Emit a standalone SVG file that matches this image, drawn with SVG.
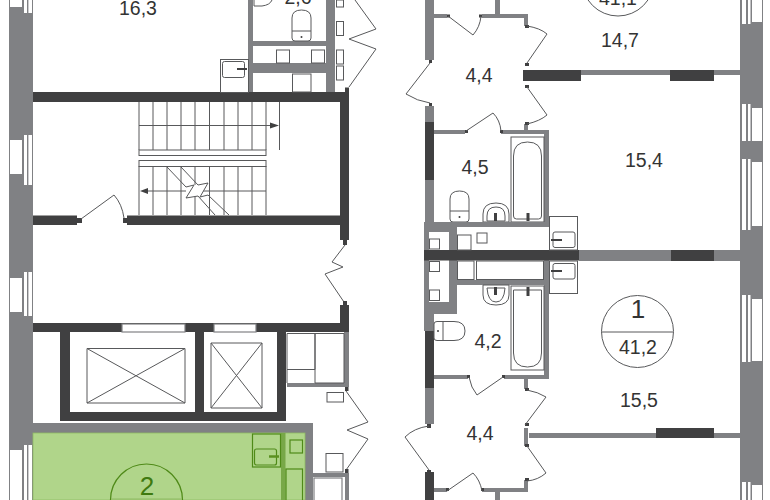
<svg xmlns="http://www.w3.org/2000/svg" width="770" height="500" viewBox="0 0 770 500">
<style>
.g{fill:#808184}.d{fill:#404041}
.l{fill:none;stroke:#58595b;stroke-width:1}
.f{fill:#fff;stroke:#58595b;stroke-width:1}
.w{fill:#fff;stroke:#808184;stroke-width:1.2}
.t{font-family:"Liberation Sans",Arial,sans-serif;font-size:19.5px;fill:#333;text-anchor:middle}
.gl{fill:none;stroke:#4f8a18;stroke-width:1.2}
</style>
<rect width="770" height="500" fill="#fff"/>
<g id="left-wall">
<rect class="g" x="9" y="0" width="24" height="500"/>
<g fill="#fff">
<rect x="10" y="0" width="12" height="7"/><rect x="10" y="140" width="12" height="34"/><rect x="10" y="278" width="12" height="34"/><rect x="10" y="450" width="12" height="50"/>
<rect x="24" y="0" width="8" height="13"/><rect x="24" y="135" width="8" height="50"/><rect x="24" y="272" width="8" height="44"/><rect x="24" y="445" width="8" height="55"/>
</g>
<g class="g"><rect x="27" y="0" width="1.4" height="13"/><rect x="27" y="135" width="1.4" height="50"/><rect x="27" y="272" width="1.4" height="44"/><rect x="27" y="445" width="1.4" height="55"/></g>
</g>
<g id="right-wall">
<rect class="g" x="740" y="0" width="23" height="500"/>
<g fill="#fff">
<rect x="752" y="0" width="10" height="22"/><rect x="752" y="108" width="10" height="33"/><rect x="752" y="162" width="10" height="64"/><rect x="752" y="299" width="10" height="62"/><rect x="752" y="485" width="10" height="15"/>
<rect x="742" y="0" width="8.500" height="24"/><rect x="742" y="104" width="8.500" height="37"/><rect x="742" y="159" width="8.500" height="71"/><rect x="742" y="295" width="8.500" height="67"/><rect x="742" y="482" width="8.500" height="18"/>
</g>
<g class="g"><rect x="746" y="0" width="2" height="24"/><rect x="746" y="104" width="2" height="37"/><rect x="746" y="159" width="2" height="71"/><rect x="746" y="295" width="2" height="67"/><rect x="746" y="482" width="2" height="18"/></g>
</g>
<g id="stair-core">
<g class="l">
<path d="M139 102V150M153 102V150M167 102V150M181 102V150M195 102V150M209.500 102V150M224 102V150M238 102V150M252 102V150M266 102V150M279.500 102V150M139 125.500H270"/>
<rect x="139" y="150" width="127" height="5.500"/><rect x="139" y="160.500" width="127" height="6"/>
<path d="M139 166V215M153 166V215M167 166V215M181 166V215M195 166V215M209.500 166V215M224 166V215M238 166V215M252 166V215M266 166V215M148 191H266"/>
</g>
<path d="M270 122.500l9 3l-9 3zM148 188l-8 3l8 3z" fill="#404041"/>
<path d="M186 187L194 185L198 185L208 183L200 197L198 196L186 198Z" fill="#fff"/>
<path class="l" d="M167 167L186 187L194 185L186 198L198 196L215 215M181 167L198 185L208 183L200 197L208 195L229 215"/>
<path class="d" d="M33 92H345V87.500H349V240H340V225H127V215.500H340V102H33ZM33 215.500H77V225H33Z"/>
<path class="d" d="M343 240H347V245H343ZM77 218H82V223H77ZM123 218H127V223H123Z"/>
<path class="l" d="M81 219L114 195Q122 204 124 218"/>
<path class="l" d="M345 245L332 262L343 267L325 274L346 305"/>
<rect class="d" x="343" y="301" width="4" height="5"/>
</g>
<g id="lift-core">
<path class="d" d="M33 323H340V305H349V332H286V421H60V332H33ZM70 332V412H195V332ZM204 332V412H277V332Z" fill-rule="evenodd"/>
<rect x="122" y="324" width="63" height="8" class="w" stroke-width=".8"/><rect x="214" y="324" width="42" height="8" class="w" stroke-width=".8"/>
<path class="f" d="M87 348.500H185V403H87ZM87 348.500L185 403M185 348.500L87 403"/>
<path class="f" d="M211 343H262V408H211ZM211 343L262 408M262 343L211 408"/>
<path class="g" d="M344 332H349V387H287V383H344Z"/>
<path class="f" d="M287 333.500H315V369.500H287ZM315 333.500H344V383H315Z"/>
<path class="l" d="M287 383V369.500"/>
<rect class="f" x="327" y="392.500" width="16.500" height="9.500"/>
<rect class="d" x="345" y="387" width="3.500" height="4"/>
<path class="l" d="M346 391L368 422L347 430L368 439L346 470"/>
<rect class="d" x="345" y="469" width="3.500" height="4"/>
<rect class="f" x="326" y="453.500" width="17" height="18.500"/>
<path class="g" d="M313 473H349V500H345V477H313Z"/>
<rect class="w" x="314" y="478" width="28" height="23"/>
</g>
<g id="apartment-2">
<rect class="g" x="33" y="423" width="280" height="77"/>
<rect x="33" y="433" width="272" height="67" fill="#b0d58a" stroke="#8fbb63" stroke-width=".8"/>
<rect x="281" y="433" width="4.500" height="67" fill="#78a848"/>
<rect class="gl" x="252.500" y="434" width="28" height="33"/>
<rect class="gl" x="254.500" y="449" width="22" height="16" rx="2"/>
<path d="M269 456.500H279" stroke="#5b9020" stroke-width="2.500"/>
<rect class="gl" x="290" y="440" width="12.500" height="13"/>
<rect class="gl" x="286" y="469" width="16.500" height="33"/>
<path d="M110.500 500A36 36 0 0 1 182.500 500" fill="none" stroke="#4f8a18" stroke-width="1.200"/>
<path d="M111 499H182" stroke="#8fbb63"/>
<text x="147" y="495" font-family="'Liberation Sans',Arial,sans-serif" font-size="26" fill="#3f7a10" text-anchor="middle">2</text>
</g>
<g id="top-left-unit">
<path class="g" d="M248 0H253V41H326V0H335V92H326V73H253V92H248ZM253 46V63H326V46Z" fill-rule="evenodd"/>
<rect x="259" y="74" width="67" height="18" fill="#fff"/>
<rect class="f" x="292.500" y="74" width="18.500" height="18"/>
<rect class="f" x="276.500" y="50" width="13" height="13"/><rect class="f" x="311.500" y="50" width="13" height="13"/>
<path class="l" d="M292 31V18Q292 10 301.500 10Q311 10 311 18V31M292 31H311M292 31V38Q292 41 295 41H308Q311 41 311 38V31"/>
<circle cx="301.500" cy="37" r="1" fill="#404041"/>
<path class="l" d="M254 0V6H262Q270 5 272 0"/>
<rect class="f" x="220.500" y="59.500" width="28" height="33"/>
<rect class="f" x="222.500" y="61.500" width="22" height="16" rx="2"/>
<path d="M237 69H247" stroke="#404041" stroke-width="2"/>
<rect class="f" x="336.500" y="0" width="7" height="7"/><rect class="f" x="336.500" y="21.500" width="7" height="14"/><rect class="f" x="336.500" y="50" width="7" height="14"/><rect class="f" x="336.500" y="66" width="7" height="14"/>
<path class="l" d="M355 0L376 29L349 39L376 49L349 87"/>
<text class="t" x="138" y="15">16,3</text>
<text class="t" x="298" y="3.500">2,6</text>
</g>
<g id="apartment-top">
<g class="g">
<rect x="425" y="0" width="9" height="60"/><rect x="425" y="106" width="9" height="16"/><rect x="425" y="180" width="9" height="45"/>
<rect x="434" y="14" width="13" height="4"/><rect x="482" y="14" width="46" height="4"/><rect x="495" y="0" width="5" height="14"/><rect x="524" y="18" width="4" height="8"/>
<rect x="581" y="70" width="89" height="5"/><rect x="714" y="70" width="26" height="5"/>
<rect x="524" y="124" width="4" height="6"/>
<rect x="434" y="130" width="31" height="4"/><rect x="501" y="130" width="48" height="4"/><rect x="544" y="134" width="5" height="93"/>
</g>
<g class="d">
<rect x="425" y="122" width="9" height="58"/>
<rect x="523" y="70" width="58" height="11"/><rect x="670" y="70" width="44" height="11"/>
<rect x="429" y="60" width="3" height="3"/><rect x="429" y="103" width="3" height="3"/><rect x="447" y="14.500" width="3" height="3"/><rect x="479" y="14.500" width="3" height="3"/>
<rect x="525" y="25" width="4" height="3"/><rect x="525" y="63" width="4" height="3"/><rect x="525" y="85" width="4" height="3"/><rect x="525" y="122" width="4" height="3"/>
<rect x="465" y="130" width="3" height="3"/><rect x="500" y="130" width="3" height="3"/>
</g>
<path class="l" d="M430 63L406 94Q417 101 430 103M448 16L473 35Q480 27 481 16M527 26Q540 28 547 34L527 63M527 87L547 115Q540 121 527 124M466 131L493 113Q500 120 501 131"/>
<circle class="l" cx="618" cy="-20" r="36"/>
<text class="t" x="618" y="5">41,1</text>
<text class="t" x="620" y="47">14,7</text>
<text class="t" x="479" y="82">4,4</text>
<text class="t" x="475" y="174">4,5</text>
<text class="t" x="644" y="167">15,4</text>
<rect class="f" x="511" y="137" width="33" height="85"/>
<path class="l" d="M513.500 216V156Q513.500 142 527.500 142Q541.500 142 541.500 156V216Q541.500 219 538.500 219H516.500Q513.500 219 513.500 216Z"/>
<rect class="d" x="526.500" y="213" width="3" height="8"/>
<path class="l" d="M483 222V214Q483 203 496 203Q509 203 509 214V222ZM487 221V216Q487 207 496 207Q505 207 505 216V221Z"/>
<rect class="d" x="494" y="213" width="3" height="8"/>
<path class="l" d="M450 211V199Q450 191 459.500 191Q469 191 469 199V211M450 211H469M450 211V219Q450 222 453 222H466Q469 222 469 219V211"/>
<circle cx="459.500" cy="217" r="1" fill="#404041"/>
</g>
<g id="shafts">
<path class="g" d="M424 222H549V227H457V250H449V232H429V250H424Z"/>
<path class="g" d="M424 260H429V302H449V260H457V280H544V260H549V379H544V285H457V314H434V331H424Z"/>
<rect class="g" x="579" y="250" width="92" height="11"/><rect class="g" x="714" y="250" width="26" height="11"/>
<rect class="d" x="424" y="250" width="155" height="10.500"/><rect class="d" x="671" y="250" width="43" height="11"/>
<rect class="f" x="429.500" y="239" width="10" height="10"/><rect class="f" x="429.500" y="261.500" width="10" height="10"/><rect class="f" x="429.500" y="290" width="10" height="10.500"/>
<rect class="f" x="457.500" y="235" width="13.500" height="15"/><rect class="f" x="477" y="233" width="10" height="10"/>
<rect class="f" x="457.500" y="261" width="16.500" height="18.500"/><rect class="f" x="476.500" y="261" width="67" height="18.500"/>
<rect class="f" x="549.500" y="216.500" width="28" height="33.500"/><rect class="f" x="553" y="232" width="22" height="15.500" rx="2"/>
<rect class="f" x="549.500" y="261" width="28" height="32.500"/><rect class="f" x="553" y="263.500" width="22" height="15.500" rx="2"/>
<path d="M551 240H562M551 271H562" stroke="#404041" stroke-width="2"/>
</g>
<g id="apartment-1">
<g class="g">
<rect x="425" y="314" width="9" height="17"/><rect x="425" y="388" width="9" height="36"/>
<rect x="434" y="375" width="34" height="4"/><rect x="504" y="375" width="45" height="4"/>
<rect x="524" y="379" width="4" height="10"/><rect x="524" y="428" width="4" height="18"/>
<rect x="529" y="433" width="127" height="5"/><rect x="714" y="433" width="26" height="5"/>
<rect x="434" y="488" width="13" height="4"/><rect x="482" y="488" width="46" height="4"/><rect x="495" y="492" width="5" height="8"/><rect x="524" y="480" width="4" height="8"/>
</g>
<g class="d">
<rect x="425" y="331" width="9" height="57"/><rect x="425" y="472" width="9" height="28"/>
<rect x="656" y="428" width="58" height="10"/>
<rect x="427" y="424" width="4" height="4"/><rect x="427" y="470" width="4" height="3"/>
<rect x="467" y="375" width="3" height="3"/><rect x="502" y="375" width="3" height="3"/>
<rect x="525" y="388" width="4" height="3"/><rect x="525" y="423" width="4" height="3"/><rect x="525" y="444" width="4" height="3"/><rect x="525" y="478" width="4" height="3"/>
<rect x="446" y="488" width="3" height="3"/><rect x="481" y="488" width="3" height="3"/>
</g>
<path class="l" d="M429 426Q414 428 405 437L429 470M469 377Q471 388 477 395L503 377M527 390Q538 392 546 397L525 425M527 446L546 473Q538 480 527 481M447 491L473 473Q480 480 482 491"/>
<circle class="l" cx="637.500" cy="331.500" r="36"/>
<path class="l" d="M601.500 332H673"/>
<text x="638" y="318" font-family="'Liberation Sans',Arial,sans-serif" font-size="26" fill="#333" text-anchor="middle">1</text>
<text class="t" x="638" y="354">41,2</text>
<text class="t" x="639" y="407">15,5</text>
<text class="t" x="480" y="440">4,4</text>
<text class="t" x="488" y="348">4,2</text>
<rect class="f" x="511" y="286" width="33" height="84"/>
<path class="l" d="M513.500 290V353Q513.500 367 527.500 367Q541.500 367 541.500 353V290Z"/>
<rect class="d" x="526.500" y="287" width="3" height="9"/>
<path class="l" d="M483 285V295Q483 305 496 305Q509 305 509 295V285ZM487 288Q488 302 496 302Q504 302 505 288Z"/>
<rect class="d" x="494" y="287" width="3" height="8"/>
<path class="l" d="M443 321.500H454Q465 321.500 465 331Q465 340.500 454 340.500H443M443 321.500V340.500M443 321.500H437Q434 321.500 434 324V338Q434 340.500 437 340.500H443"/>
<circle cx="438" cy="331" r="1" fill="#404041"/>
</g>
</svg>
